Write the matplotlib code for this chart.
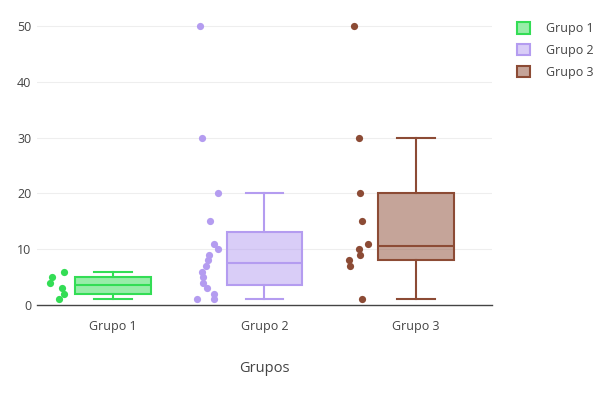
import numpy as np
import matplotlib
matplotlib.use("Agg")
import matplotlib.pyplot as plt
from matplotlib.patches import Patch

categories = ["Grupo 1", "Grupo 2", "Grupo 3"]
grupo1 = [1, 2, 3, 4, 5, 6]
grupo2 = [1, 1, 2, 3, 4, 5, 6, 7, 8, 9, 10, 11, 15, 20, 30, 50]
grupo3 = [1, 7, 8, 9, 10, 11, 15, 20, 30, 50]
series = [grupo1, grupo2, grupo3]
colors = ["#33dd55", "#b49cf0", "#8c4b35"]
y_ticks = [0, 10, 20, 30, 40, 50]

plt.rcParams['font.family'] = ['Open Sans', 'DejaVu Sans']

W, H = 613, 397
fig = plt.figure(figsize=(W / 100, H / 100), dpi=100)
left, right, top, bottom = 37, 492, 17.6, 305
ax = fig.add_axes([left / W, 1 - bottom / H, (right - left) / W, (bottom - top) / H])


def stats(vals, label):
    v = np.sort(np.asarray(vals, dtype=float))
    n = len(v)
    med = np.median(v)
    lower = v[: n // 2]
    upper = v[(n + 1) // 2:]
    q1 = np.median(lower)
    q3 = np.median(upper)
    iqr = q3 - q1
    lo_f, hi_f = q1 - 1.5 * iqr, q3 + 1.5 * iqr
    whislo = v[v >= lo_f].min()
    whishi = v[v <= hi_f].max()
    return dict(med=med, q1=q1, q3=q3, whislo=whislo, whishi=whishi,
                fliers=[], label=label)


rng = np.random.default_rng(7)
for i, (vals, col, cat) in enumerate(zip(series, colors, categories)):
    st = stats(vals, cat)
    ax.bxp([st], positions=[i], widths=0.5, patch_artist=True, showfliers=False,
           boxprops=dict(facecolor=matplotlib.colors.to_rgba(col, 0.5), edgecolor=col, linewidth=1.5),
           medianprops=dict(color=col, linewidth=1.5),
           whiskerprops=dict(color=col, linewidth=1.5),
           capprops=dict(color=col, linewidth=1.5),
           capwidths=0.25, zorder=3)
    jit = rng.uniform(-0.07, 0.07, len(vals))
    ax.scatter(i - 0.375 + jit, vals, s=27, color=col, linewidths=0, zorder=4)

ax.set_xlim(-0.5, 2.5)
ax.set_ylim(0, 51.5)
ax.set_xticks(range(len(categories)))
ax.set_xticklabels(categories)
ax.set_yticks(y_ticks)
ax.tick_params(axis='both', length=0, labelsize=9, labelcolor='#444444')
ax.tick_params(axis='x', pad=11)
ax.tick_params(axis='y', pad=4)
for t in y_ticks[1:]:
    ax.axhline(t, color='#eeeeee', linewidth=0.8, zorder=0)
for s in ['top', 'right', 'left']:
    ax.spines[s].set_visible(False)
ax.spines['bottom'].set_color('#444444')
ax.spines['bottom'].set_linewidth(1)
ax.set_xlabel("Grupos", fontsize=10.5, color='#444444', labelpad=20)

handles = [Patch(facecolor=matplotlib.colors.to_rgba(c, 0.5), edgecolor=c, linewidth=1.5, label=cat)
           for c, cat in zip(colors, categories)]
fig.legend(handles=handles, loc='upper left', bbox_to_anchor=(506 / W, 1 - 11 / H),
           frameon=False, fontsize=9, handlelength=1.0, handleheight=1.0,
           handletextpad=1.3, labelspacing=0.7, labelcolor='#444444')

fig.savefig("out.png", dpi=100)
